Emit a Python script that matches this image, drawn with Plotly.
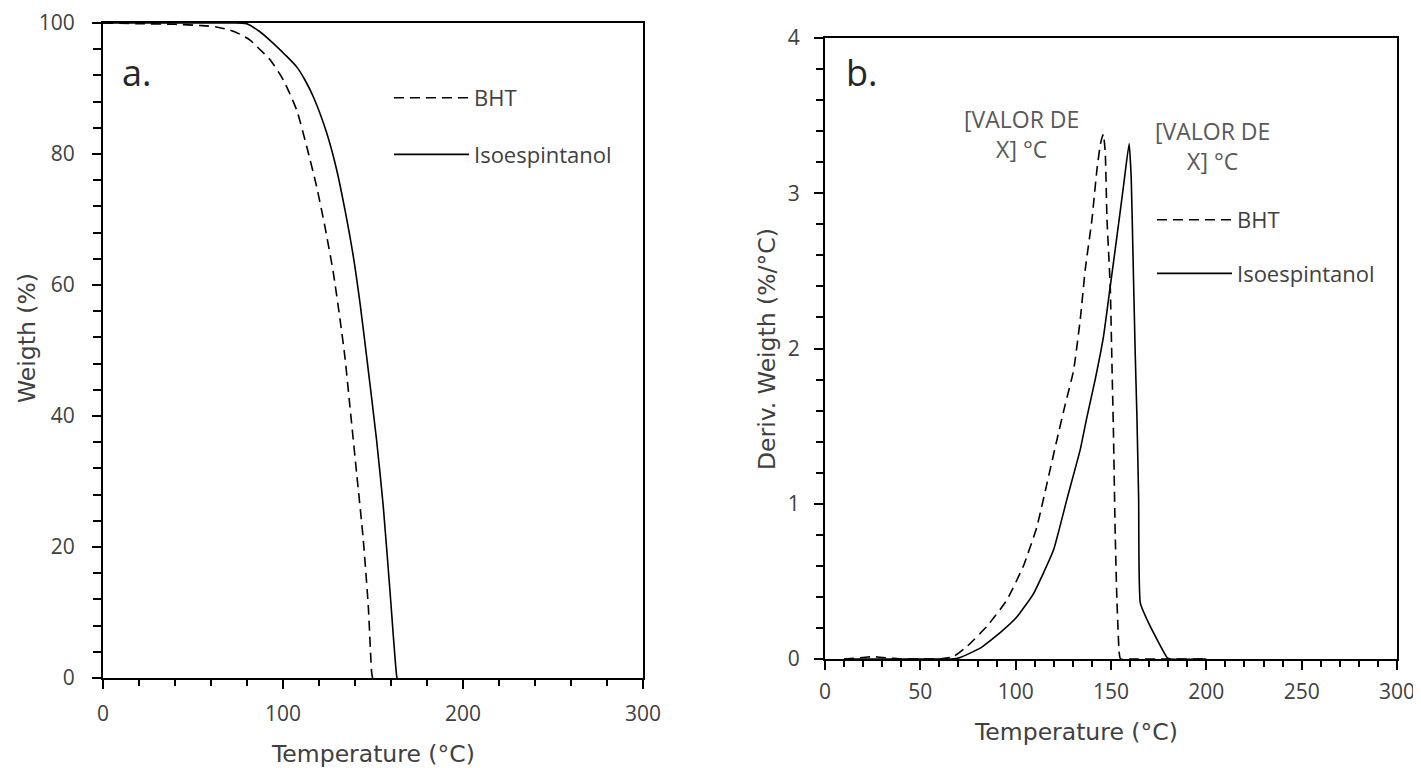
import plotly.graph_objects as go

# ---------------- data ----------------
# (a) TGA: weight (%) vs temperature (°C)
tga_temp_bht = [0, 20, 40, 55, 63, 70.6, 76, 81.7, 87, 92.8, 100.2, 107.6, 113.2, 118.7, 123.3, 128,
                131.7, 134.4, 137.2, 140.9, 144.6, 147.4, 149.3, 149.8]
tga_w_bht = [100, 99.9, 99.8, 99.6, 99.4, 98.9, 98.3, 97.4, 96.0, 94.4, 91.3, 86.7, 81.1, 75, 68.9, 61.8,
             54.7, 49, 41.4, 31.3, 21.1, 10.9, 0.7, 0]

tga_temp_iso = [0, 40, 70, 79.8, 87, 94.6, 101, 107.6, 112.2, 116.9, 124.3, 129.8, 134.4, 139.1, 142.8,
                146.5, 152, 155.7, 159.4, 163.2, 163.5]
tga_w_iso = [100, 100, 100, 99.9, 98.7, 96.9, 95.2, 93.3, 91.3, 88.7, 83.2, 77.6, 71.5, 64.3, 57.2,
             49, 36.3, 26.2, 13.4, 0.2, 0]

# (b) DTG: derivative weight (%/°C) vs temperature (°C)
dtg_temp_bht = [10, 15, 20, 25, 30, 35, 40, 50, 60, 67.4, 74.4, 84.9, 95.4, 104.1, 111.1, 116.4, 121.6,
                126, 130.4, 133.9, 136.5, 140, 142.6, 144.5, 146, 147, 147.9, 149.6, 150.5, 151.3,
                152.2, 153.1, 154.3, 155, 160, 180, 200]
dtg_v_bht = [0, 0.005, 0.01, 0.015, 0.01, 0.005, 0, 0, 0, 0.015, 0.08, 0.21, 0.38, 0.6, 0.85, 1.13, 1.41,
             1.64, 1.86, 2.19, 2.51, 2.83, 3.15, 3.32, 3.38, 3.26, 2.83, 2.4, 1.9, 1.45,
             0.81, 0.38, 0.04, 0, 0, 0, 0]

dtg_temp_iso = [10, 40, 60, 66, 70.9, 81.4, 91.9, 100.6, 109.3, 119.8, 126.9, 133.9, 137.4, 141.7, 146.1,
                149.6, 153.1, 156.6, 159.5, 160.6, 161.5, 162.7, 163.6, 164.5, 165.4, 170.6, 179.4, 181,
                200]
dtg_v_iso = [0, 0, 0, 0, 0.01, 0.07, 0.17, 0.27, 0.42, 0.70, 1.03, 1.35, 1.56, 1.8, 2.08,
             2.4, 2.72, 3.05, 3.32, 3.1, 2.62, 1.97, 1.56, 1.03, 0.36, 0.21, 0.01, 0,
             0]

series_names = ["BHT", "Isoespintanol"]
peak_labels = ["[VALOR DE<br>X] °C", "[VALOR DE<br>X] °C"]
panel_labels = ["a.", "b."]
x_title = "Temperature (°C)"
y_title_a = "Weigth (%)"
y_title_b = "Deriv. Weigth (%/°C)"

# ---------------- figure ----------------
W, H = 1421, 768
OFF = 8  # page body margin in the browser


def px(x):
    return (x - OFF) / W


def py(y):
    return 1 - (y - OFF) / H


TICK_FONT = dict(family="Open Sans", size=21, color="#404040")
TITLE_FONT = dict(family="DejaVu Sans", size=23.5, color="#404040")
DASH = "10px,6px"

fig = go.Figure()

fig.add_trace(go.Scatter(x=tga_temp_bht, y=tga_w_bht, name=series_names[0], mode="lines",
                         line=dict(color="black", width=1.6, dash=DASH, shape="spline", smoothing=0.6),
                         xaxis="x", yaxis="y", legend="legend", legendgroup="a1"))
fig.add_trace(go.Scatter(x=tga_temp_iso, y=tga_w_iso, name=series_names[1], mode="lines",
                         line=dict(color="black", width=1.6, shape="spline", smoothing=0.6),
                         xaxis="x", yaxis="y", legend="legend", legendgroup="a2"))
fig.add_trace(go.Scatter(x=dtg_temp_bht, y=dtg_v_bht, name=series_names[0], mode="lines",
                         line=dict(color="black", width=1.6, dash=DASH, shape="spline", smoothing=0.4),
                         xaxis="x2", yaxis="y2", legend="legend2", legendgroup="b1"))
fig.add_trace(go.Scatter(x=dtg_temp_iso, y=dtg_v_iso, name=series_names[1], mode="lines",
                         line=dict(color="black", width=1.6, shape="spline", smoothing=0.4),
                         xaxis="x2", yaxis="y2", legend="legend2", legendgroup="b2"))

axis_common = dict(showline=True, linecolor="black", linewidth=2, mirror=True, showgrid=False,
                   zeroline=False, ticks="outside", tickcolor="black", tickwidth=1.5, ticklen=9,
                   tickfont=TICK_FONT, automargin=False)

fig.update_layout(
    width=W, height=H, template="none",
    paper_bgcolor="white", plot_bgcolor="white",
    margin=dict(l=0, r=0, t=0, b=0),
    showlegend=True,
    xaxis=dict(axis_common, domain=[px(103), px(643)], range=[0, 300], dtick=100, tick0=0,
               ticklabelstandoff=7,
               minor=dict(ticks="outside", ticklen=6, dtick=20, tickcolor="black", tickwidth=1.5),
               anchor="y"),
    yaxis=dict(axis_common, domain=[py(678), py(23)], range=[0, 100], dtick=20, tick0=0,
               ticklabelstandoff=13,
               minor=dict(ticks="outside", ticklen=8, dtick=4, tickcolor="black", tickwidth=1.5),
               anchor="x"),
    xaxis2=dict(axis_common, domain=[px(825), px(1397)], range=[0, 300], dtick=50, tick0=0,
                ticklabelstandoff=4,
                minor=dict(ticks="outside", ticklen=6, dtick=10, tickcolor="black", tickwidth=1.5),
                anchor="y2"),
    yaxis2=dict(axis_common, domain=[py(659), py(38)], range=[0, 4], dtick=1, tick0=0,
                ticklabelstandoff=10,
                minor=dict(ticks="outside", ticklen=7, dtick=0.2, tickcolor="black", tickwidth=1.5),
                anchor="x2"),
    legend=dict(x=px(389), y=py(77), xanchor="left", yanchor="top", bgcolor="rgba(0,0,0,0)",
                font=dict(family="Open Sans", size=22, color="#404040"), itemwidth=75,
                traceorder="grouped", tracegroupgap=25, itemclick=False),
    legend2=dict(x=px(1152), y=py(199), xanchor="left", yanchor="top", bgcolor="rgba(0,0,0,0)",
                 font=dict(family="Open Sans", size=22, color="#404040"), itemwidth=75,
                 traceorder="grouped", tracegroupgap=22, itemclick=False),
)

annotations = [
    # panel labels
    dict(text=panel_labels[0], x=px(120), y=py(72), xref="paper", yref="paper", xanchor="left",
         yanchor="middle", showarrow=False, font=dict(family="Open Sans", size=36, color="#262626")),
    dict(text=panel_labels[1], x=px(844), y=py(72), xref="paper", yref="paper", xanchor="left",
         yanchor="middle", showarrow=False, font=dict(family="Open Sans", size=36, color="#262626")),
    # peak labels
    dict(text=peak_labels[0], x=px(1021), y=py(134), xref="paper", yref="paper", xanchor="center",
         yanchor="middle", showarrow=False, font=dict(family="Open Sans", size=23, color="#595959")),
    dict(text=peak_labels[1], x=px(1212), y=py(146), xref="paper", yref="paper", xanchor="center",
         yanchor="middle", showarrow=False, font=dict(family="Open Sans", size=23, color="#595959")),
    # axis titles
    dict(text=x_title, x=px(373), y=py(754), xref="paper", yref="paper", xanchor="center",
         yanchor="middle", showarrow=False, font=TITLE_FONT),
    dict(text=x_title, x=px(1076), y=py(732), xref="paper", yref="paper", xanchor="center",
         yanchor="middle", showarrow=False, font=TITLE_FONT),
    dict(text=y_title_a, x=px(27), y=py(338), xref="paper", yref="paper", xanchor="center",
         yanchor="middle", showarrow=False, textangle=-90, font=TITLE_FONT),
    dict(text=y_title_b, x=px(767), y=py(349), xref="paper", yref="paper", xanchor="center",
         yanchor="middle", showarrow=False, textangle=-90, font=TITLE_FONT),
]
fig.update_layout(annotations=annotations)

fig.write_html("out.html")
